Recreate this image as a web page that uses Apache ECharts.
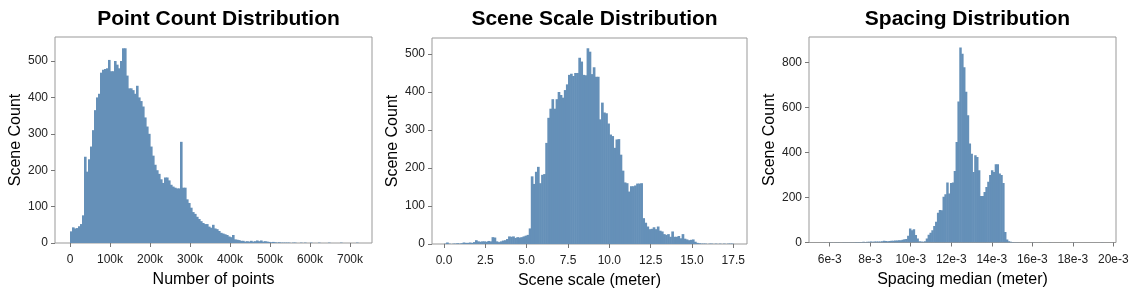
<!DOCTYPE html>
<html><head><meta charset="utf-8">
<script src="https://cdn.jsdelivr.net/npm/echarts@6/dist/echarts.min.js"></script>
<style>html,body{margin:0;padding:0;background:#fff}#c{width:1142px;height:299px}</style>
</head><body><div id="c"></div>
<script>
// ---------- data ----------
const titles = ['Point Count Distribution', 'Scene Scale Distribution', 'Spacing Distribution'];
const xAxisNames = ['Number of points', 'Scene scale (meter)', 'Spacing median (meter)'];
const yAxisName = 'Scene Count';

// Panel 1: number of points, bins of 5k starting at 0
const pointBinStart = 0;
const pointBinWidth = 5000;
const pointCounts = [
  32,43,40,41,46,52,76,237,196,230,
  265,310,365,400,410,468,476,478,480,503,
  472,472,500,490,480,500,535,535,460,425,
  425,420,410,432,400,390,375,345,320,300,
  265,240,215,200,190,175,165,180,180,172,
  160,155,152,150,150,278,152,152,120,110,
  97,85,80,72,66,60,55,52,52,45,
  42,50,40,38,33,28,26,24,22,18,
  16,22,10,9,8,6,6,4,5,4,
  6,4,5,7,5,7,4,5,4,3,
  2,3,2,1,2,1,1,1,1,1,
  0,1,1,0,0,1,0,1,0,0,
  1,0,0,0,1,0,0,0,0,1,
  0,0,0,0,0,1,0,0,0,0,
  0,0,0,1
];
const pointTicks = [0,100000,200000,300000,400000,500000,600000,700000];
const pointYTicks = [0,100,200,300,400,500];

// Panel 2: scene scale, bins of 0.125 m starting at 0
const scaleBinStart = 0;
const scaleBinWidth = 0.125;
const scaleCounts = [
  1,4,1,0,1,1,2,1,2,4,
  3,3,4,3,5,10,7,6,7,7,
  6,8,7,18,17,7,5,7,9,10,
  13,20,19,20,16,18,17,18,20,22,
  24,41,178,158,190,203,160,182,184,266,
  332,356,381,356,381,400,392,385,405,420,
  445,448,442,450,450,490,480,445,444,515,
  506,447,465,440,440,328,372,346,344,317,
  288,284,253,275,276,235,193,162,160,138,
  152,152,154,159,159,160,68,56,46,39,
  40,44,39,46,35,33,26,24,26,19,
  33,19,19,21,15,26,14,12,10,11,
  12,6,3,2,1,1,1,0,1,1,
  0,1,0,1,0,1,0,1,1,1
];
const scaleTicks = [0,2.5,5,7.5,10,12.5,15,17.5];
const scaleYTicks = [0,100,200,300,400,500];

// Panel 3: spacing median, bins of 0.092e-3 starting at 5.68e-3
const spacingBinStart = 0.00568;
const spacingBinWidth = 0.000092;
const spacingCounts = [
  1,0,0,1,1,0,1,1,1,0,
  1,1,1,1,1,1,1,2,2,2,
  2,3,2,3,3,4,3,4,5,4,
  5,6,8,7,6,7,8,8,9,9,
  10,10,12,15,16,30,62,55,59,33,
  18,6,4,3,6,18,35,43,55,73,
  92,132,144,143,203,215,267,218,265,267,
  318,447,627,867,840,780,670,566,440,395,
  314,388,380,321,207,207,225,247,270,300,
  321,314,348,348,307,300,265,47,13,6,
  3,2,1,1,1,0,1,0,0,1,
  0,0,1,0,0,0,1,0,0,0,
  0,1,0,0,0,0,0,1,0,0,
  0,0,0,0,1,0,0,0,0,0,
  0,0,0,0,0,0,0,0,0,1
];
const spacingTicks = [0.006,0.008,0.010,0.012,0.014,0.016,0.018,0.020];
const spacingYTicks = [0,200,400,600,800];

// ---------- chart ----------
const FONT = "'Liberation Sans', Arial, Helvetica, sans-serif";
const BAR = '#6590b8';
const FRAME = '#999999';
const TICK = '#777777';

function binData(start, width, counts) {
  return counts.map((c, i) => [start + i * width, start + (i + 1) * width, c]);
}

function renderBin(params, api) {
  const y = api.value(2);
  if (y <= 0) return null;
  const p0 = api.coord([api.value(0), y]);
  const p1 = api.coord([api.value(1), 0]);
  return {
    type: 'rect',
    shape: {x: p0[0], y: p0[1], width: p1[0] - p0[0] + 0.6, height: p1[1] - p0[1]},
    style: {fill: BAR}
  };
}

const panels = [
  { grid: {left: 55, top: 37, width: 317, height: 206}, xMin: -37500, xMax: 755000, yMax: 566,
    xTicks: pointTicks, yTicks: pointYTicks, fmt: v => v === 0 ? '0' : Math.round(v / 1000) + 'k',
    data: binData(pointBinStart, pointBinWidth, pointCounts) },
  { grid: {left: 432, top: 38, width: 315, height: 206}, xMin: -0.727, xMax: 18.33, yMax: 542,
    xTicks: scaleTicks, yTicks: scaleYTicks, fmt: v => v.toFixed(1),
    data: binData(scaleBinStart, scaleBinWidth, scaleCounts) },
  { grid: {left: 809, top: 37, width: 307, height: 205.5}, xMin: 0.004977, xMax: 0.020133, yMax: 914,
    xTicks: spacingTicks, yTicks: spacingYTicks, fmt: v => Math.round(v * 1000) + 'e-3',
    data: binData(spacingBinStart, spacingBinWidth, spacingCounts) }
];

const option = {
  animation: false,
  backgroundColor: '#ffffff',
  title: panels.map((p, i) => ({
    text: titles[i], left: p.grid.left + p.grid.width / 2, top: 4, textAlign: 'center',
    textStyle: {fontFamily: FONT, fontSize: 21, fontWeight: 'bold', color: '#000'}
  })),
  grid: panels.map(p => Object.assign({show: true, borderColor: FRAME, borderWidth: 1, containLabel: false}, p.grid)),
  xAxis: panels.map((p, i) => ({
    type: 'value', gridIndex: i, min: p.xMin, max: p.xMax,
    name: xAxisNames[i], nameLocation: 'middle', nameGap: 29,
    nameTextStyle: {fontFamily: FONT, fontSize: 16, color: '#000'},
    axisLine: {show: false, onZero: false},
    splitLine: {show: false},
    axisTick: {show: true, inside: false, length: 4, customValues: p.xTicks, lineStyle: {color: TICK}},
    axisLabel: {show: true, margin: 11, customValues: p.xTicks, formatter: p.fmt,
      fontFamily: FONT, fontSize: 12, color: '#222'}
  })),
  yAxis: panels.map((p, i) => ({
    type: 'value', gridIndex: i, min: 0, max: p.yMax,
    name: yAxisName, nameLocation: 'middle', nameGap: 31, nameRotate: 90,
    nameTextStyle: {fontFamily: FONT, fontSize: 16, color: '#000'},
    axisLine: {show: false, onZero: false},
    splitLine: {show: false},
    axisTick: {show: true, inside: false, length: 4, customValues: p.yTicks, lineStyle: {color: TICK}},
    axisLabel: {show: true, margin: 7, customValues: p.yTicks,
      fontFamily: FONT, fontSize: 12, color: '#222'}
  })),
  series: panels.map((p, i) => ({
    type: 'custom', xAxisIndex: i, yAxisIndex: i,
    renderItem: renderBin, data: p.data, silent: true, clip: true
  }))
};

const chart = echarts.init(document.getElementById('c'), null, {renderer: 'canvas'});
chart.setOption(option);
</script>
</body></html>
